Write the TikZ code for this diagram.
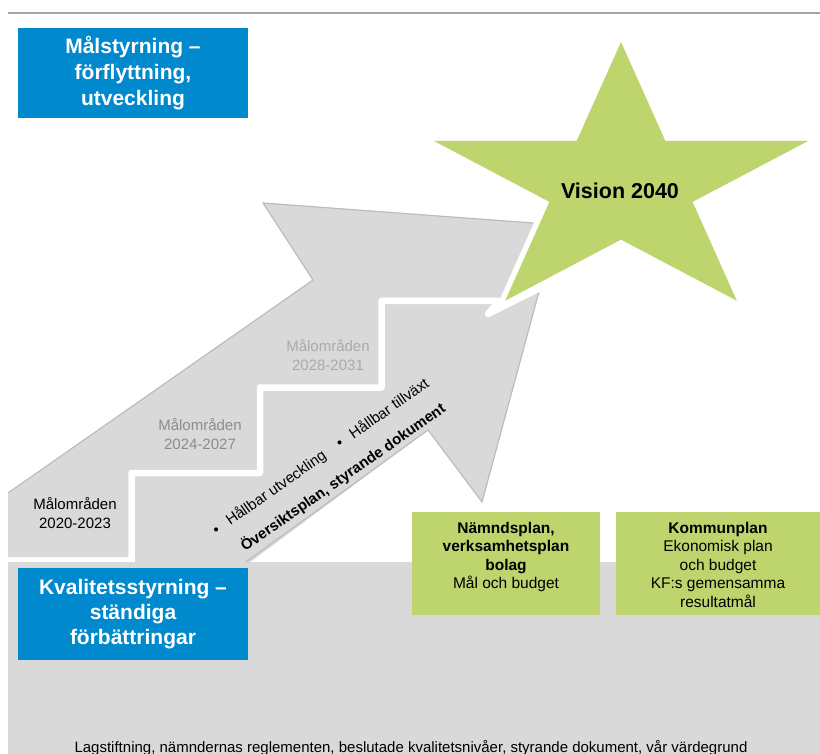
\documentclass[tikz,border=0pt]{standalone}
\usepackage{fontspec}
\setmainfont{Liberation Sans}
\definecolor{malBlue}{RGB}{0,137,204}
\definecolor{planGreen}{RGB}{190,212,108}
\definecolor{baseGray}{RGB}{217,217,217}
\definecolor{ruleGray}{RGB}{165,165,165}
\definecolor{shadowGray}{RGB}{188,188,188}
\definecolor{periodGray}{RGB}{140,140,140}
\definecolor{laterGray}{RGB}{170,170,170}

\begin{document}
\begin{tikzpicture}[x=1pt, y=-1pt,
	bluebox/.style={fill=malBlue, text=white, align=center, inner sep=0pt,
		minimum width=230pt, minimum height=90pt, font=\fontsize{21}{25.8}\selectfont\bfseries},
	greenbox/.style={fill=planGreen, inner sep=0pt, minimum height=103pt},
	boxtext/.style={align=center, inner sep=0pt, font=\fontsize{15.5}{18.5}\selectfont},
	steplabel/.style={align=center, inner sep=0pt, font=\fontsize{15}{19}\selectfont},
	whiteline/.style={white, line width=6.5pt, line join=round}]
		%%%%% START %%%%%
		\useasboundingbox (0,0) rectangle (820,754);
		
		\draw[ruleGray, line width=1.3pt] (8,13) -- (820,13);
		\node[bluebox] (malstyrning) at (133,73) {Målstyrning –\\förflyttning,\\utveckling};
		
		% grund
		\fill[baseGray] (8,562) rectangle (820,754);
		
		% stora pilen
		\fill[baseGray] (8,493) -- (313,280) -- (263,203) -- (560,225) -- (515,292) -- (470,320)
			-- (300,470) -- (131,557) -- (8,557) -- cycle;
		\draw[shadowGray, line width=1.2pt] (8,493) -- (313,280) -- (263,203) -- (560,225);
		
		% trappan
		\fill[baseGray] (131.5,566) -- (131.5,473) -- (260,473) -- (260,387.5) -- (381.5,387.5)
			-- (381.5,301) -- (499,301) -- (488,314) -- (540,288) -- (482,502) -- (428,430)
			-- (245,566) -- cycle;
		\draw[shadowGray, line width=1.2pt] (540,288) -- (482,502) -- (428,430) -- (246,562);
		\draw[whiteline] (131.5,562) -- (131.5,473) -- (260,473) -- (260,387.5) -- (381.5,387.5)
			-- (381.5,301) -- (499,301) -- (488,314) -- (540,288);
		
		% stjarna
		\draw[white, line width=11pt, line join=round] (621,42) -- (665.3,140.8) -- (808.4,140.8)
			-- (692.6,201.9) -- (736.8,300.7) -- (621,239.6) -- (505.2,300.7) -- (549.4,201.9)
			-- (433.6,140.8) -- (576.7,140.8) -- cycle;
		\fill[planGreen] (621,42) -- (665.3,140.8) -- (808.4,140.8)
			-- (692.6,201.9) -- (736.8,300.7) -- (621,239.6) -- (505.2,300.7) -- (549.4,201.9)
			-- (433.6,140.8) -- (576.7,140.8) -- cycle;
		\node[font=\fontsize{21.5}{25}\selectfont\bfseries] (vision) at (620,191) {Vision 2040};
		
		\node[steplabel] (mal1) at (75,513) {Målområden\\2020-2023};
		\node[steplabel, text=periodGray] (mal2) at (200,434) {Målområden\\2024-2027};
		\node[steplabel, text=laterGray] (mal3) at (328,355) {Målområden\\2028-2031};
		
		\node[rotate=35, inner sep=0pt, font=\fontsize{15}{17}\selectfont] (hallbar) at (321,457)
			{\textbullet\hspace{11pt}Hållbar utveckling\hspace{16pt}\textbullet\hspace{11pt}Hållbar tillväxt};
		\node[rotate=35, inner sep=0pt, font=\fontsize{15}{17}\selectfont\bfseries] (oversikt) at (343,477.5)
			{Översiktsplan, styrande dokument};
		
		\node[greenbox, minimum width=188pt] (namndbox) at (506,563.5) {};
		\node[boxtext, anchor=north] (namndtext) at ([yshift=-10pt]namndbox.north)
			{\textbf{Nämndsplan,}\\\textbf{verksamhetsplan}\\\textbf{bolag}\\Mål och budget};
		\node[greenbox, minimum width=204pt] (kommunbox) at (718,563.5) {};
		\node[boxtext, anchor=north] (kommuntext) at ([yshift=-10pt]kommunbox.north)
			{\textbf{Kommunplan}\\Ekonomisk plan\\och budget\\KF:s gemensamma\\resultatmål};
		
		\node[bluebox, minimum height=92pt, font=\fontsize{21}{25}\selectfont\bfseries] (kvalitet) at (133,614)
			{Kvalitetsstyrning –\\ständiga\\förbättringar};
		
		\node[anchor=base, inner sep=0pt, font=\fontsize{15}{18}\selectfont] (grund) at (411,752)
			{Lagstiftning, nämndernas reglementen, beslutade kvalitetsnivåer, styrande dokument, vår värdegrund};
		%%%%% END %%%%%
\end{tikzpicture}
\end{document}
